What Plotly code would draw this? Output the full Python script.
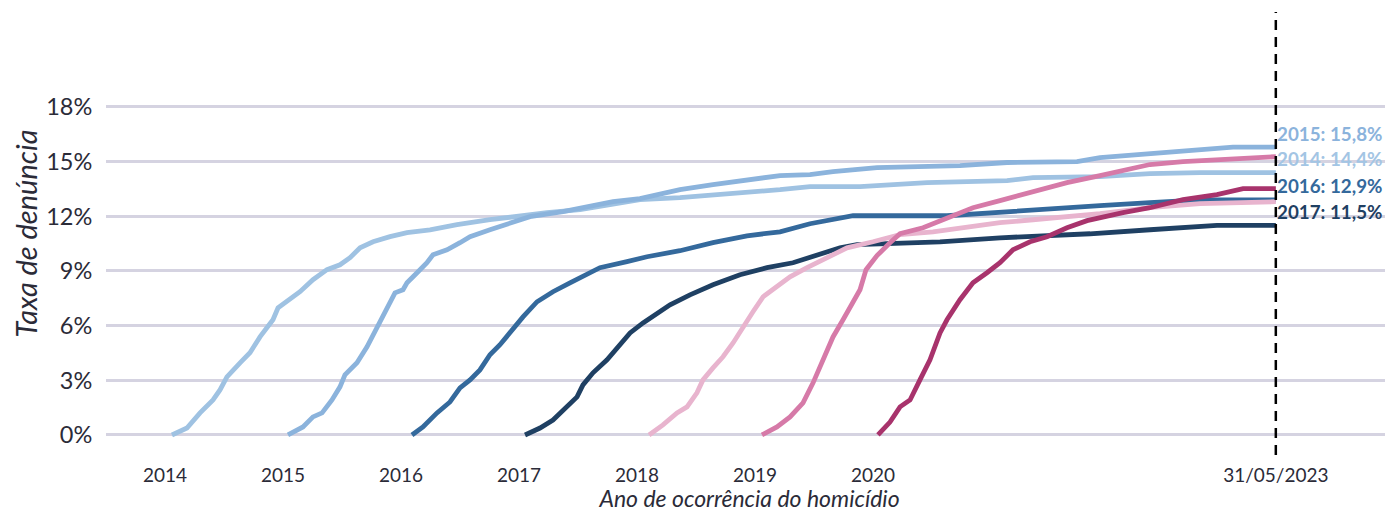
import plotly.graph_objects as go

# ---------------- data (x: decimal year of the report date, y: reporting rate %) -------------
cohorts = ["2014", "2015", "2016", "2017", "2018", "2019", "2020"]

x_2014 = [2014.059, 2014.186, 2014.297, 2014.407, 2014.466, 2014.525, 2014.636, 2014.720, 2014.805,
          2014.864, 2014.915, 2014.958, 2015.034, 2015.144, 2015.254, 2015.373, 2015.483, 2015.568,
          2015.653, 2015.763, 2015.907, 2016.051, 2016.246, 2016.475, 2016.754, 2016.949, 2017.237,
          2017.517, 2017.797, 2018.025, 2018.364, 2018.932, 2019.212, 2019.466, 2019.890, 2020.458,
          2021.136, 2021.356, 2021.924, 2022.347, 2022.771, 2023.414]
y_2014 = [0.00, 0.38, 1.21, 1.92, 2.47, 3.19, 3.96, 4.51, 5.38,
          5.93, 6.32, 6.98, 7.31, 7.86, 8.52, 9.07, 9.34, 9.73,
          10.27, 10.60, 10.88, 11.10, 11.26, 11.54, 11.81, 11.98, 12.20,
          12.36, 12.64, 12.91, 13.02, 13.30, 13.46, 13.63, 13.63, 13.85,
          13.96, 14.12, 14.18, 14.34, 14.40, 14.40]

x_2015 = [2015.042, 2015.169, 2015.254, 2015.331, 2015.415, 2015.483, 2015.525, 2015.627, 2015.712,
          2015.797, 2015.881, 2015.949, 2016.017, 2016.051, 2016.136, 2016.220, 2016.271, 2016.390,
          2016.500, 2016.585, 2016.754, 2016.898, 2017.093, 2017.373, 2017.576, 2017.797, 2018.025,
          2018.195, 2018.364, 2018.644, 2018.847, 2019.102, 2019.212, 2019.466, 2019.661, 2020.034,
          2020.737, 2021.136, 2021.729, 2021.924, 2022.203, 2022.492, 2022.771, 2023.051, 2023.414]
y_2015 = [0.00, 0.44, 0.99, 1.21, 1.92, 2.64, 3.30, 3.96, 4.84,
          5.93, 6.98, 7.80, 7.97, 8.35, 8.90, 9.45, 9.89, 10.16,
          10.55, 10.88, 11.26, 11.59, 11.98, 12.25, 12.53, 12.80, 12.97,
          13.19, 13.46, 13.74, 13.90, 14.12, 14.23, 14.29, 14.45, 14.67,
          14.78, 14.95, 15.00, 15.22, 15.38, 15.49, 15.66, 15.80, 15.80]

x_2016 = [2016.093, 2016.186, 2016.305, 2016.415, 2016.500, 2016.585, 2016.669, 2016.754, 2016.839,
          2016.924, 2016.983, 2017.034, 2017.153, 2017.288, 2017.432, 2017.576, 2017.686, 2017.915,
          2018.085, 2018.364, 2018.644, 2018.932, 2019.212, 2019.466, 2019.661, 2019.831, 2020.627,
          2021.076, 2021.356, 2021.924, 2022.347, 2022.771, 2023.414]
y_2016 = [0.00, 0.44, 1.21, 1.81, 2.58, 3.02, 3.57, 4.40, 4.95,
          5.60, 6.15, 6.48, 7.31, 7.86, 8.35, 8.79, 9.18, 9.51,
          9.78, 10.11, 10.55, 10.93, 11.15, 11.59, 11.81, 12.03, 12.03,
          12.20, 12.36, 12.58, 12.75, 12.90, 12.90]

x_2017 = [2017.051, 2017.178, 2017.288, 2017.407, 2017.492, 2017.542, 2017.627, 2017.746, 2017.831,
          2017.941, 2018.051, 2018.169, 2018.280, 2018.449, 2018.644, 2018.873, 2019.102, 2019.322,
          2019.525, 2019.720, 2019.864, 2020.568, 2021.076, 2021.839, 2022.347, 2022.915, 2023.414]
y_2017 = [0.00, 0.38, 0.82, 1.54, 2.09, 2.75, 3.41, 4.12, 4.78,
          5.60, 6.15, 6.70, 7.14, 7.69, 8.24, 8.79, 9.18, 9.45,
          9.84, 10.27, 10.44, 10.60, 10.82, 11.04, 11.26, 11.50, 11.50]

x_2018 = [2018.102, 2018.220, 2018.339, 2018.424, 2018.508, 2018.559, 2018.644, 2018.729, 2018.814,
          2018.898, 2018.983, 2019.068, 2019.186, 2019.297, 2019.441, 2019.576, 2019.780, 2020.000,
          2020.229, 2020.508, 2020.797, 2021.076, 2021.356, 2021.644, 2021.924, 2022.347, 2022.771,
          2023.414]
y_2018 = [0.00, 0.55, 1.21, 1.54, 2.31, 3.02, 3.68, 4.29, 5.05,
          5.93, 6.76, 7.58, 8.13, 8.68, 9.18, 9.62, 10.27, 10.60,
          10.99, 11.15, 11.43, 11.65, 11.81, 11.98, 12.14, 12.47, 12.69,
          12.80]

x_2019 = [2019.059, 2019.186, 2019.297, 2019.407, 2019.492, 2019.576, 2019.661, 2019.746, 2019.831,
          2019.890, 2019.941, 2020.034, 2020.144, 2020.229, 2020.424, 2020.653, 2020.847, 2021.076,
          2021.356, 2021.644, 2021.924, 2022.347, 2022.627, 2022.915, 2023.414]
y_2019 = [0.00, 0.44, 0.99, 1.76, 2.86, 4.12, 5.38, 6.32, 7.25,
          7.97, 9.07, 9.84, 10.55, 11.04, 11.37, 11.98, 12.47, 12.86,
          13.35, 13.85, 14.23, 14.84, 15.00, 15.11, 15.27]

x_2020 = [2020.042, 2020.144, 2020.229, 2020.314, 2020.398, 2020.483, 2020.568, 2020.627, 2020.737,
          2020.847, 2020.966, 2021.076, 2021.186, 2021.331, 2021.475, 2021.644, 2021.814, 2021.983,
          2022.119, 2022.347, 2022.627, 2022.915, 2023.136, 2023.414]
y_2020 = [0.00, 0.71, 1.54, 1.92, 3.02, 4.12, 5.60, 6.32, 7.42,
          8.35, 8.90, 9.45, 10.16, 10.60, 10.88, 11.37, 11.76, 12.03,
          12.20, 12.47, 12.91, 13.19, 13.52, 13.52]

label_cohorts = ["2015", "2014", "2016", "2017"]
label_values = [15.8, 14.4, 12.9, 11.5]

x_tick_years = [2014, 2015, 2016, 2017, 2018, 2019, 2020]
cutoff_label = "31/05/2023"
cutoff_year = 2023 + 151 / 365  # 31 May 2023
y_ticks = [0, 3, 6, 9, 12, 15, 18]

# ---------------- styling -------------
colors = {
    "2014": "#9fc2e2",
    "2015": "#8bb3dc",
    "2016": "#34699c",
    "2017": "#1f4063",
    "2018": "#e8b4ce",
    "2019": "#d67aa8",
    "2020": "#a8336c",
}
label_colors = {"2015": "#8bb3dc", "2014": "#a3c5e4", "2016": "#34699c", "2017": "#1f4063"}

series_x = [x_2014, x_2015, x_2016, x_2017, x_2018, x_2019, x_2020]
series_y = [y_2014, y_2015, y_2016, y_2017, y_2018, y_2019, y_2020]

FONT = "Lato, 'Open Sans', sans-serif"
TXT = "#2b2b38"

fig = go.Figure()
for name, xs, ys in zip(cohorts, series_x, series_y):
    fig.add_trace(go.Scatter(x=xs, y=ys, mode="lines", name=name,
                             line=dict(color=colors[name], width=4.8),
                             showlegend=False, hoverinfo="skip"))

# vertical dashed cutoff line
fig.add_shape(type="line", xref="x", yref="paper", x0=cutoff_year, x1=cutoff_year, y0=0, y1=1,
              line=dict(color="black", width=2.5, dash="10px,7px"), layer="above")

# end labels
for c, v in zip(label_cohorts, label_values):
    txt = f"{c}: {v:.1f}%".replace(".", ",")
    fig.add_annotation(x=cutoff_year, y=v, xref="x", yref="y", text=f"<b>{txt}</b>",
                       showarrow=False, xanchor="left", yanchor="middle", xshift=-1, yshift=14,
                       font=dict(family=FONT, size=18.8, color=label_colors[c]))

# the page body adds an 8px margin, so the figure is 8px smaller than the window
fig.update_layout(
    width=1385, height=504,
    margin=dict(l=98, r=0, t=4, b=57),
    paper_bgcolor="white", plot_bgcolor="white",
    font=dict(family=FONT, color=TXT),
)
fig.update_xaxes(
    range=[2013.5, 2013.5 + 1287 / 118],
    tickvals=x_tick_years + [cutoff_year],
    ticktext=[str(y) for y in x_tick_years] + [cutoff_label],
    tickfont=dict(family=FONT, size=19, color=TXT),
    showgrid=False, zeroline=False, showline=False,
    ticks="outside", ticklen=3, tickcolor="rgba(0,0,0,0)",
    title=dict(text="<i>Ano de ocorrência do homicídio</i>", standoff=8,
               font=dict(family=FONT, size=23, color=TXT)),
)
fig.update_yaxes(
    range=[-1.10, 23.21],
    tickvals=y_ticks, ticktext=[f"{t}%" for t in y_ticks],
    tickfont=dict(family=FONT, size=23.5, color=TXT),
    showgrid=True, gridcolor="#d5d3e1", gridwidth=2.5,
    zeroline=False, showline=False,
    ticks="outside", ticklen=8, tickcolor="rgba(0,0,0,0)",
    title=dict(text="<i>Taxa de denúncia</i>", standoff=6,
               font=dict(family=FONT, size=29, color=TXT)),
)

fig.write_html("out.html")
